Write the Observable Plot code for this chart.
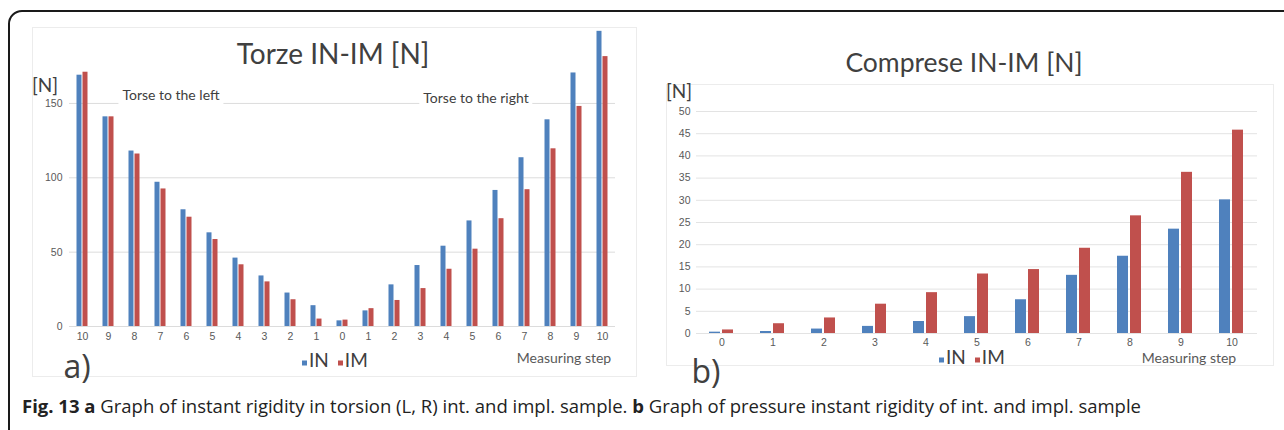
<!DOCTYPE html>
<html>
<head>
<meta charset="utf-8">
<script src="https://cdn.jsdelivr.net/npm/d3@7"></script>
<script src="https://cdn.jsdelivr.net/npm/@observablehq/plot@0.6"></script>
<style>
  html, body { margin: 0; padding: 0; background: #fff; }
  body { width: 1284px; height: 430px; overflow: hidden; position: relative; font-family: Lato, "Open Sans", sans-serif; }
  .abs { position: absolute; white-space: nowrap; }
  .c { transform: translate(-50%, -50%); }
  .lc { transform: translate(0, -50%); }
  .frame { position: absolute; left: 8px; top: 10px; width: 1300px; height: 460px; border: 2px solid #1a1a1a; border-radius: 14px; box-sizing: border-box; }
  .panel { position: absolute; border: 1px solid #ececec; }
  .title { font-size: 28px; color: #404040; }
  .unit { font-size: 19px; color: #404040; }
  .note { font-size: 14px; color: #404040; background: #fff; padding: 2px 4px; }
  .step { font-size: 14px; color: #595959; }
  .legend { font-size: 19px; color: #404040; display: flex; align-items: center; gap: 3px; }
  .legend .sw { display: inline-block; width: 5px; height: 5px; margin-top: 8px; }
  .legend .item { display: flex; align-items: center; gap: 2px; margin-right: 6px; }
  .panelLabel { font-size: 32px; color: #404040; font-family: "Open Sans", sans-serif; }
  .caption { font-family: "Open Sans", sans-serif; font-size: 18.5px; color: #222; }
  .plot { position: absolute; top: 0; }
</style>
</head>
<body>
<script>
// ---------- data ----------
// a) torsion: steps to the left (10..1), centre 0, steps to the right (1..10)
const torsionSteps = ["L10","L9","L8","L7","L6","L5","L4","L3","L2","L1","0","R1","R2","R3","R4","R5","R6","R7","R8","R9","R10"];
const torsionTickLabels = ["10","9","8","7","6","5","4","3","2","1","0","1","2","3","4","5","6","7","8","9","10"];
const torsionIN = [169, 141, 118, 97, 78.5, 63, 46, 34, 22.5, 14, 3.8, 10.5, 28, 41, 54, 71, 91.5, 113.5, 139, 170.5, 198.5];
const torsionIM = [171, 141, 116, 92.5, 73.5, 58.5, 41.5, 30, 18, 5, 4.3, 12, 17.5, 25.5, 38.5, 52, 72.5, 92, 119.5, 148, 181.5];
const torsionYTicks = [0, 50, 100, 150];

// b) compression
const pressureSteps = ["0","1","2","3","4","5","6","7","8","9","10"];
const pressureIN = [0.3, 0.45, 1.0, 1.6, 2.7, 3.8, 7.6, 13.1, 17.4, 23.5, 30.1];
const pressureIM = [0.8, 2.2, 3.5, 6.6, 9.2, 13.4, 14.4, 19.2, 26.5, 36.3, 45.8];
const pressureYTicks = [0, 5, 10, 15, 20, 25, 30, 35, 40, 45, 50];

const seriesNames = ["IN", "IM"];
const seriesColors = ["#4F81BD", "#C0504D"];

// ---------- helpers ----------
function rows(steps, a, b) {
  return steps.flatMap((s, i) => [
    {step: s, series: seriesNames[0], value: a[i]},
    {step: s, series: seriesNames[1], value: b[i]}
  ]);
}
function el(cls, text, left, top, extra) {
  const d = document.createElement("div");
  d.className = "abs " + cls;
  d.textContent = text;
  d.style.left = left + "px";
  d.style.top = top + "px";
  if (extra) Object.assign(d.style, extra);
  document.body.appendChild(d);
  return d;
}
function legend(left, top) {
  const d = document.createElement("div");
  d.className = "abs legend lc";
  d.style.left = left + "px";
  d.style.top = top + "px";
  seriesNames.forEach((n, i) => {
    const it = document.createElement("span");
    it.className = "item";
    const sw = document.createElement("span");
    sw.className = "sw";
    sw.style.background = seriesColors[i];
    const t = document.createElement("span");
    t.textContent = n;
    it.appendChild(sw); it.appendChild(t);
    d.appendChild(it);
  });
  document.body.appendChild(d);
}

// ---------- frames ----------
const frame = document.createElement("div");
frame.className = "frame";
document.body.appendChild(frame);

const p1 = document.createElement("div");
p1.className = "panel";
Object.assign(p1.style, {left: "32px", top: "27px", width: "603px", height: "348px"});
document.body.appendChild(p1);
const p2 = document.createElement("div");
p2.className = "panel";
Object.assign(p2.style, {left: "666px", top: "84px", width: "606px", height: "280px"});
document.body.appendChild(p2);

// ---------- chart a ----------
const axisStyle = {fontFamily: "'Liberation Sans', Arial, sans-serif", fontSize: "10.5px", color: "#595959", background: "transparent", overflow: "visible"};

const chartA = Plot.plot({
  width: 640,
  height: 356,
  marginLeft: 59.5,
  marginRight: 15,
  marginTop: 28.6,
  marginBottom: 30,
  style: axisStyle,
  fx: {domain: torsionSteps, padding: 0, label: null, tickSize: 0, tickPadding: 6, axis: "bottom",
       tickFormat: d => torsionTickLabels[torsionSteps.indexOf(d)]},
  x: {domain: seriesNames, paddingInner: 0.15, paddingOuter: 0.95, axis: null},
  y: {domain: [0, 200], ticks: torsionYTicks, tickSize: 0, tickPadding: 7, label: null, grid: false},
  color: {domain: seriesNames, range: seriesColors},
  marks: [
    Plot.ruleY(torsionYTicks, {stroke: "#dcdcdc", strokeWidth: 1}),
    Plot.barY(rows(torsionSteps, torsionIN, torsionIM), {fx: "step", x: "series", y: "value", fill: "series"})
  ]
});
chartA.classList.add("plot");
chartA.style.left = "0px";
document.body.appendChild(chartA);

// ---------- chart b ----------
const chartB = Plot.plot({
  width: 644,
  height: 363,
  marginLeft: 53,
  marginRight: 24,
  marginTop: 111,
  marginBottom: 30,
  style: axisStyle,
  fx: {domain: pressureSteps, padding: 0, label: null, tickSize: 0, tickPadding: 5, axis: "bottom"},
  x: {domain: seriesNames, paddingInner: 0.15, paddingOuter: 0.9, axis: null},
  y: {domain: [0, 50], ticks: pressureYTicks, tickSize: 0, tickPadding: 6, label: null, grid: false},
  color: {domain: seriesNames, range: seriesColors},
  marks: [
    Plot.ruleY(pressureYTicks, {stroke: "#e3e3e3", strokeWidth: 1}),
    Plot.barY(rows(pressureSteps, pressureIN, pressureIM), {fx: "step", x: "series", y: "value", fill: "series"})
  ]
});
chartB.classList.add("plot");
chartB.style.left = "640px";
document.body.appendChild(chartB);

// ---------- texts ----------
el("title c", "Torze IN-IM [N]", 333, 53);
el("unit c", "[N]", 45, 84);
el("note c", "Torse to the left", 171, 94);
el("note c", "Torse to the right", 476, 97);
legend(302, 359);
el("step c", "Measuring step", 564, 357);
el("panelLabel c", "a)", 77, 365);

el("title c", "Comprese IN-IM [N]", 964, 62, {fontSize: "26.5px"});
el("unit c", "[N]", 679, 90);
legend(939, 356);
el("step c", "Measuring step", 1189, 357);
el("panelLabel c", "b)", 706, 370);

const cap = document.createElement("div");
cap.className = "abs caption lc";
cap.style.left = "22px";
cap.style.top = "405px";
cap.innerHTML = "<b>Fig. 13 a</b> Graph of instant rigidity in torsion (L, R) int. and impl. sample. <b>b</b> Graph of pressure instant rigidity of int. and impl. sample";
document.body.appendChild(cap);
</script>
</body>
</html>
